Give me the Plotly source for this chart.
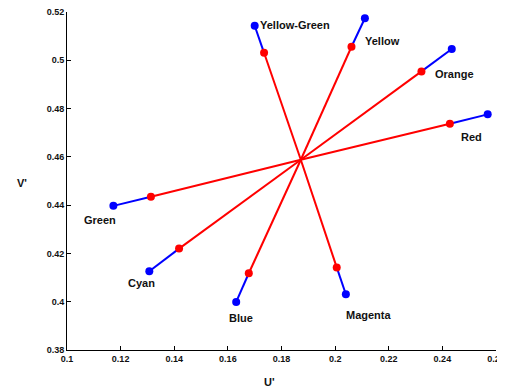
import plotly.graph_objects as go

# Data
names = ["Yellow-Green", "Yellow", "Orange", "Red", "Green", "Cyan", "Blue", "Magenta"]
center_u, center_v = 0.1872, 0.4588
red_u = [0.1735, 0.2061, 0.2322, 0.2428, 0.1313, 0.1418, 0.1678, 0.2006]
red_v = [0.5031, 0.5056, 0.4954, 0.4737, 0.4435, 0.4220, 0.4118, 0.4142]
blue_u = [0.1700, 0.2111, 0.2435, 0.2569, 0.1173, 0.1307, 0.1631, 0.2040]
blue_v = [0.5143, 0.5174, 0.5047, 0.4776, 0.4397, 0.4126, 0.3999, 0.4031]
x_ticks = [0.1, 0.12, 0.14, 0.16, 0.18, 0.2, 0.22, 0.24, 0.26]
x_ticktext = ["0.1", "0.12", "0.14", "0.16", "0.18", "0.2", "0.22", "0.24", "0.26"]
y_ticks = [0.38, 0.4, 0.42, 0.44, 0.46, 0.48, 0.5, 0.52]
y_ticktext = ["0.38", "0.4", "0.42", "0.44", "0.46", "0.48", "0.5", "0.52"]

# label pixel offsets (style)
label_shift = {
    "Yellow-Green": (3, 1, "left"),
    "Yellow": (18, -23, "center"),
    "Orange": (3, -25, "center"),
    "Red": (-16, -23, "center"),
    "Green": (-13, -14, "center"),
    "Cyan": (-8, -12, "center"),
    "Blue": (5, -16, "center"),
    "Magenta": (23, -21, "center"),
}

fig = go.Figure()

# blue segments
bx, by = [], []
for i in range(len(names)):
    bx += [red_u[i], blue_u[i], None]
    by += [red_v[i], blue_v[i], None]
fig.add_trace(go.Scatter(x=bx, y=by, mode="lines", line=dict(color="#0000ff", width=2),
                         hoverinfo="skip", showlegend=False))
# red segments
rx, ry = [], []
for i in range(len(names)):
    rx += [center_u, red_u[i], None]
    ry += [center_v, red_v[i], None]
fig.add_trace(go.Scatter(x=rx, y=ry, mode="lines", line=dict(color="#ff0000", width=2),
                         hoverinfo="skip", showlegend=False))
fig.add_trace(go.Scatter(x=blue_u, y=blue_v, mode="markers",
                         marker=dict(color="#0000ff", size=8), showlegend=False, text=names))
fig.add_trace(go.Scatter(x=red_u, y=red_v, mode="markers",
                         marker=dict(color="#ff0000", size=8), showlegend=False, text=names))

for i, n in enumerate(names):
    dx, dy, anc = label_shift[n]
    fig.add_annotation(x=blue_u[i], y=blue_v[i], text="<b>%s</b>" % n, showarrow=False,
                       xshift=dx, yshift=dy, xanchor=anc, yanchor="middle",
                       font=dict(family="Liberation Sans, Arial", size=11, color="#111"))

fig.add_annotation(xref="paper", yref="paper", x=0.473, y=-0.095, text="<b>U'</b>",
                   showarrow=False, xanchor="center", yanchor="middle",
                   font=dict(family="Liberation Sans, Arial", size=11, color="#111"))
fig.add_annotation(xref="paper", yref="paper", x=-0.106, y=0.4945, text="<b>V'</b>",
                   showarrow=False, xanchor="center", yanchor="middle",
                   font=dict(family="Liberation Sans, Arial", size=11, color="#111"))

axis_common = dict(showgrid=False, zeroline=False, showline=True, linecolor="black",
                   linewidth=1, ticks="inside", ticklen=4, tickcolor="black",
                   tickfont=dict(family="Liberation Sans, Arial", size=9, color="#111"),
                   mirror=False, automargin=False, ticklabeloverflow="allow")
fig.update_xaxes(range=[0.1, 0.26], tickvals=x_ticks, ticktext=[f"<b>{t}</b>" for t in x_ticktext],
                 **axis_common)
fig.update_yaxes(range=[0.38, 0.52], tickvals=y_ticks, ticktext=[f"<b>{t}</b>" for t in y_ticktext],
                 **axis_common)
# page body adds an 8px margin, so the figure is sized to fit the window
fig.update_layout(width=497, height=382, margin=dict(l=59, r=9, t=4, b=40),
                  plot_bgcolor="white", paper_bgcolor="white")
fig.write_html("out.html")
